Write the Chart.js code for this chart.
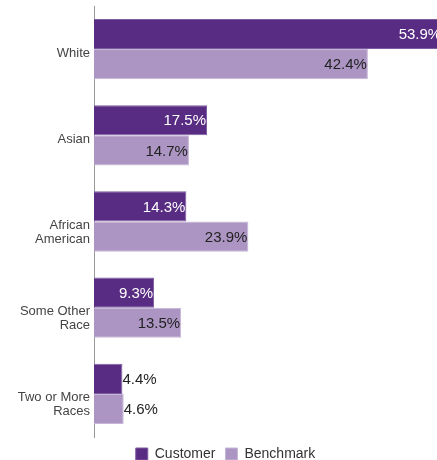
<!DOCTYPE html>
<html lang="en">
<head>
    <meta charset="UTF-8">
    <title>Race - Customer vs Benchmark</title>
    <style>
        body {
            margin: 0;
            padding: 0;
            background-color: #fff;
        }

        .chart-box {
            width: 437px;
            height: 460px;
        }
    </style>
</head>
<body>
    <div class="chart-box">
        <canvas id="raceChart"></canvas>
    </div>

    <script src="https://cdn.jsdelivr.net/npm/chart.js"></script>
    <script>
        // Data for chart
        const categories = [['White'], ['Asian'], ['African', 'American'], ['Some Other', 'Race'], ['Two or More', 'Races']];
        const customerValues = [53.9, 17.5, 14.3, 9.3, 4.4];
        const benchmarkValues = [42.4, 14.7, 23.9, 13.5, 4.6];

        const FONT = 'Arial, "Liberation Sans", sans-serif';

        // Category labels: first line sits a bit under the tick, extra lines go below
        const categoryLabels = {
            id: 'categoryLabels',
            afterDraw(chart) {
                const ctx = chart.ctx;
                const yScale = chart.scales.y;
                ctx.save();
                ctx.font = '13px ' + FONT;
                ctx.fillStyle = '#444';
                ctx.textAlign = 'right';
                ctx.textBaseline = 'middle';
                categories.forEach(function(lines, i) {
                    const y = yScale.getPixelForTick(i);
                    lines.forEach(function(line, k) {
                        ctx.fillText(line, yScale.right - 4, y + 4 + k * 14);
                    });
                });
                ctx.restore();
            }
        };

        // Value labels at the end of each bar, inside when there is room
        const valueLabels = {
            id: 'valueLabels',
            afterDatasetsDraw(chart) {
                const ctx = chart.ctx;
                ctx.save();
                ctx.font = '15px ' + FONT;
                ctx.textBaseline = 'middle';
                chart.data.datasets.forEach(function(ds, di) {
                    const meta = chart.getDatasetMeta(di);
                    meta.data.forEach(function(bar, i) {
                        const text = ds.data[i].toFixed(1) + '%';
                        const w = ctx.measureText(text).width;
                        const len = bar.x - bar.base;
                        if (len > w + 6) {
                            ctx.textAlign = 'right';
                            ctx.fillStyle = di === 0 ? '#fff' : '#222';
                            ctx.fillText(text, bar.x - 1, bar.y + 1);
                        } else {
                            ctx.textAlign = 'left';
                            ctx.fillStyle = '#222';
                            ctx.fillText(text, bar.x, bar.y + 1);
                        }
                    });
                });
                ctx.restore();
            }
        };

        // Keep the legend strip short so the plot runs down to y=437,
        // and nudge it a little right like the original
        const shortLegend = {
            id: 'shortLegend',
            beforeLayout(chart) {
                const legend = chart.legend;
                if (!legend || legend._patched) return;
                const fit = legend.fit;
                legend.fit = function() {
                    fit.call(this);
                    this.height = 23;
                };
                legend._patched = true;
            },
            afterLayout(chart) {
                if (!chart.legend) return;
                chart.legend.left += 7;
                chart.legend.right += 7;
            }
        };

        const raceCtx = document.getElementById('raceChart').getContext('2d');
        const raceChart = new Chart(raceCtx, {
            type: 'bar',
            data: {
                labels: categories,
                datasets: [{
                    label: 'Customer',
                    data: customerValues,
                    backgroundColor: '#582c82',
                    borderColor: '#7d5ba0',
                    borderWidth: 1,
                    borderSkipped: 'left'
                }, {
                    label: 'Benchmark',
                    data: benchmarkValues,
                    backgroundColor: '#ac95c3',
                    borderColor: '#c6b6d7',
                    borderWidth: 1,
                    borderSkipped: 'left'
                }]
            },
            options: {
                indexAxis: 'y',
                responsive: true,
                maintainAspectRatio: false,
                animation: false,
                layout: {
                    padding: { top: 6, right: 0, bottom: 0, left: 0 }
                },
                datasets: {
                    bar: {
                        categoryPercentage: 0.7,
                        barPercentage: 1.0
                    }
                },
                scales: {
                    x: {
                        display: false,
                        min: 0,
                        max: 53.1
                    },
                    y: {
                        grid: { display: false, drawTicks: false },
                        border: { display: true, color: '#999', width: 1 },
                        ticks: { display: false },
                        afterFit: function(scale) {
                            scale.width = 94;
                        }
                    }
                },
                plugins: {
                    legend: {
                        position: 'bottom',
                        labels: {
                            boxWidth: 12,
                            boxHeight: 12,
                            padding: 10,
                            color: '#333',
                            font: { size: 14, family: FONT }
                        }
                    },
                    tooltip: { enabled: false }
                }
            },
            plugins: [shortLegend, categoryLabels, valueLabels]
        });
    </script>
</body>
</html>
